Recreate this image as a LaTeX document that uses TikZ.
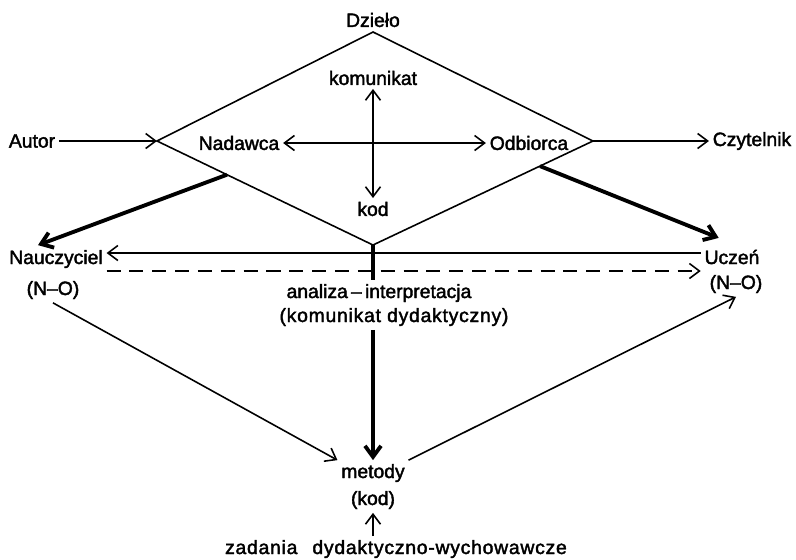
\documentclass[tikz,border=0pt]{standalone}
\usepackage{fontspec}
\setmainfont{Liberation Sans}[FakeBold=2]
\usetikzlibrary{arrows.meta, calc}

\begin{document}
\begin{tikzpicture}[
        x=0.02cm, y=-0.02cm,
        lbl/.style={font=\fontsize{11}{13}\selectfont, inner sep=2pt},
        wide/.style={font=\fontsize{11}{13}\selectfont\addfontfeature{LetterSpace=4}},
        arr/.style={-{Straight Barb[length=2mm, width=3mm]}, line width=0.9pt},
        darr/.style={{Straight Barb[length=2mm, width=3mm]}-{Straight Barb[length=2mm, width=3mm]}, line width=0.9pt},
        tarr/.style={-{Straight Barb[length=2.2mm, width=3.2mm]}, line width=2.2pt},
      ]
        \useasboundingbox (0,0) rectangle (796,559);

        % the diamond
        \coordinate (top) at (373,32);
        \coordinate (rgt) at (593,141);
        \coordinate (bot) at (373,245);
        \coordinate (lft) at (157,141);
        \draw[line width=0.9pt, line join=miter] (top) -- (rgt) -- (bot) -- (lft) -- cycle;

        \node[lbl] (dzielo) at (373,20)  {Dzieło};
        \node[lbl] (kom)    at (373,78)  {komunikat};
        \node[lbl] (kod)    at (373,209) {kod};
        \node[lbl] (nad)    at (239,143) {Nadawca};
        \node[lbl] (odb)    at (529,143) {Odbiorca};
        \node[lbl] (autor)  at (32,141)  {Autor};
        \node[lbl] (czyt)   at (752,141) {Czytelnik};

        \node[lbl] (naucz)   at (56,259)  {Nauczyciel};
        \node[lbl] (nauczno) at (53,290)  {(N--O)};
        \node[lbl] (uczen)   at (732,257) {Uczeń};
        \node[lbl] (uczenno) at (736,284) {(N--O)};

        \node[lbl] (anal)   at (379,293) {analiza\,–\,interpretacja};
        \node[lbl, wide] (komdyd) at (394,317) {(komunikat dydaktyczny)};
        \node[lbl] (met)    at (373,473) {metody};
        \node[lbl] (kodm)   at (373,500) {(kod)};
        \node[lbl, wide] (zad) at (396,549) {zadania\hspace{0.3cm}dydaktyczno-wychowawcze};

        \draw[darr] (kom) -- (kod);
        \draw[darr] (nad) -- (odb);
        \draw[arr] (autor) -- (lft);
        \draw[arr] (rgt) -- (czyt);

        \draw[tarr] ($(lft)!0.324!(bot)$) -- ([shift={(-18,-1)}]naucz.north);
        \draw[tarr] ($(rgt)!0.241!(bot)$) -- ([shift={(18,-8)}]uczen.north west);

        \draw[arr] (uczen.west |- 0,253) -- (naucz.east |- 0,253);
        \draw[arr, dash pattern=on 8pt off 5pt] (naucz.east |- 0,271) -- (uczen.west |- 0,271);

        \draw[line width=2.2pt] (bot) -- (anal.north -| bot);
        \draw[tarr] (komdyd.south -| bot) -- (met.north);
        \draw[arr] (zad.north -| kodm) -- (kodm.south);

        \draw[arr] (nauczno.south) -- (met.north west);
        \draw[arr] (met.north east) -- (uczenno.south);
      \end{tikzpicture}
\end{document}
